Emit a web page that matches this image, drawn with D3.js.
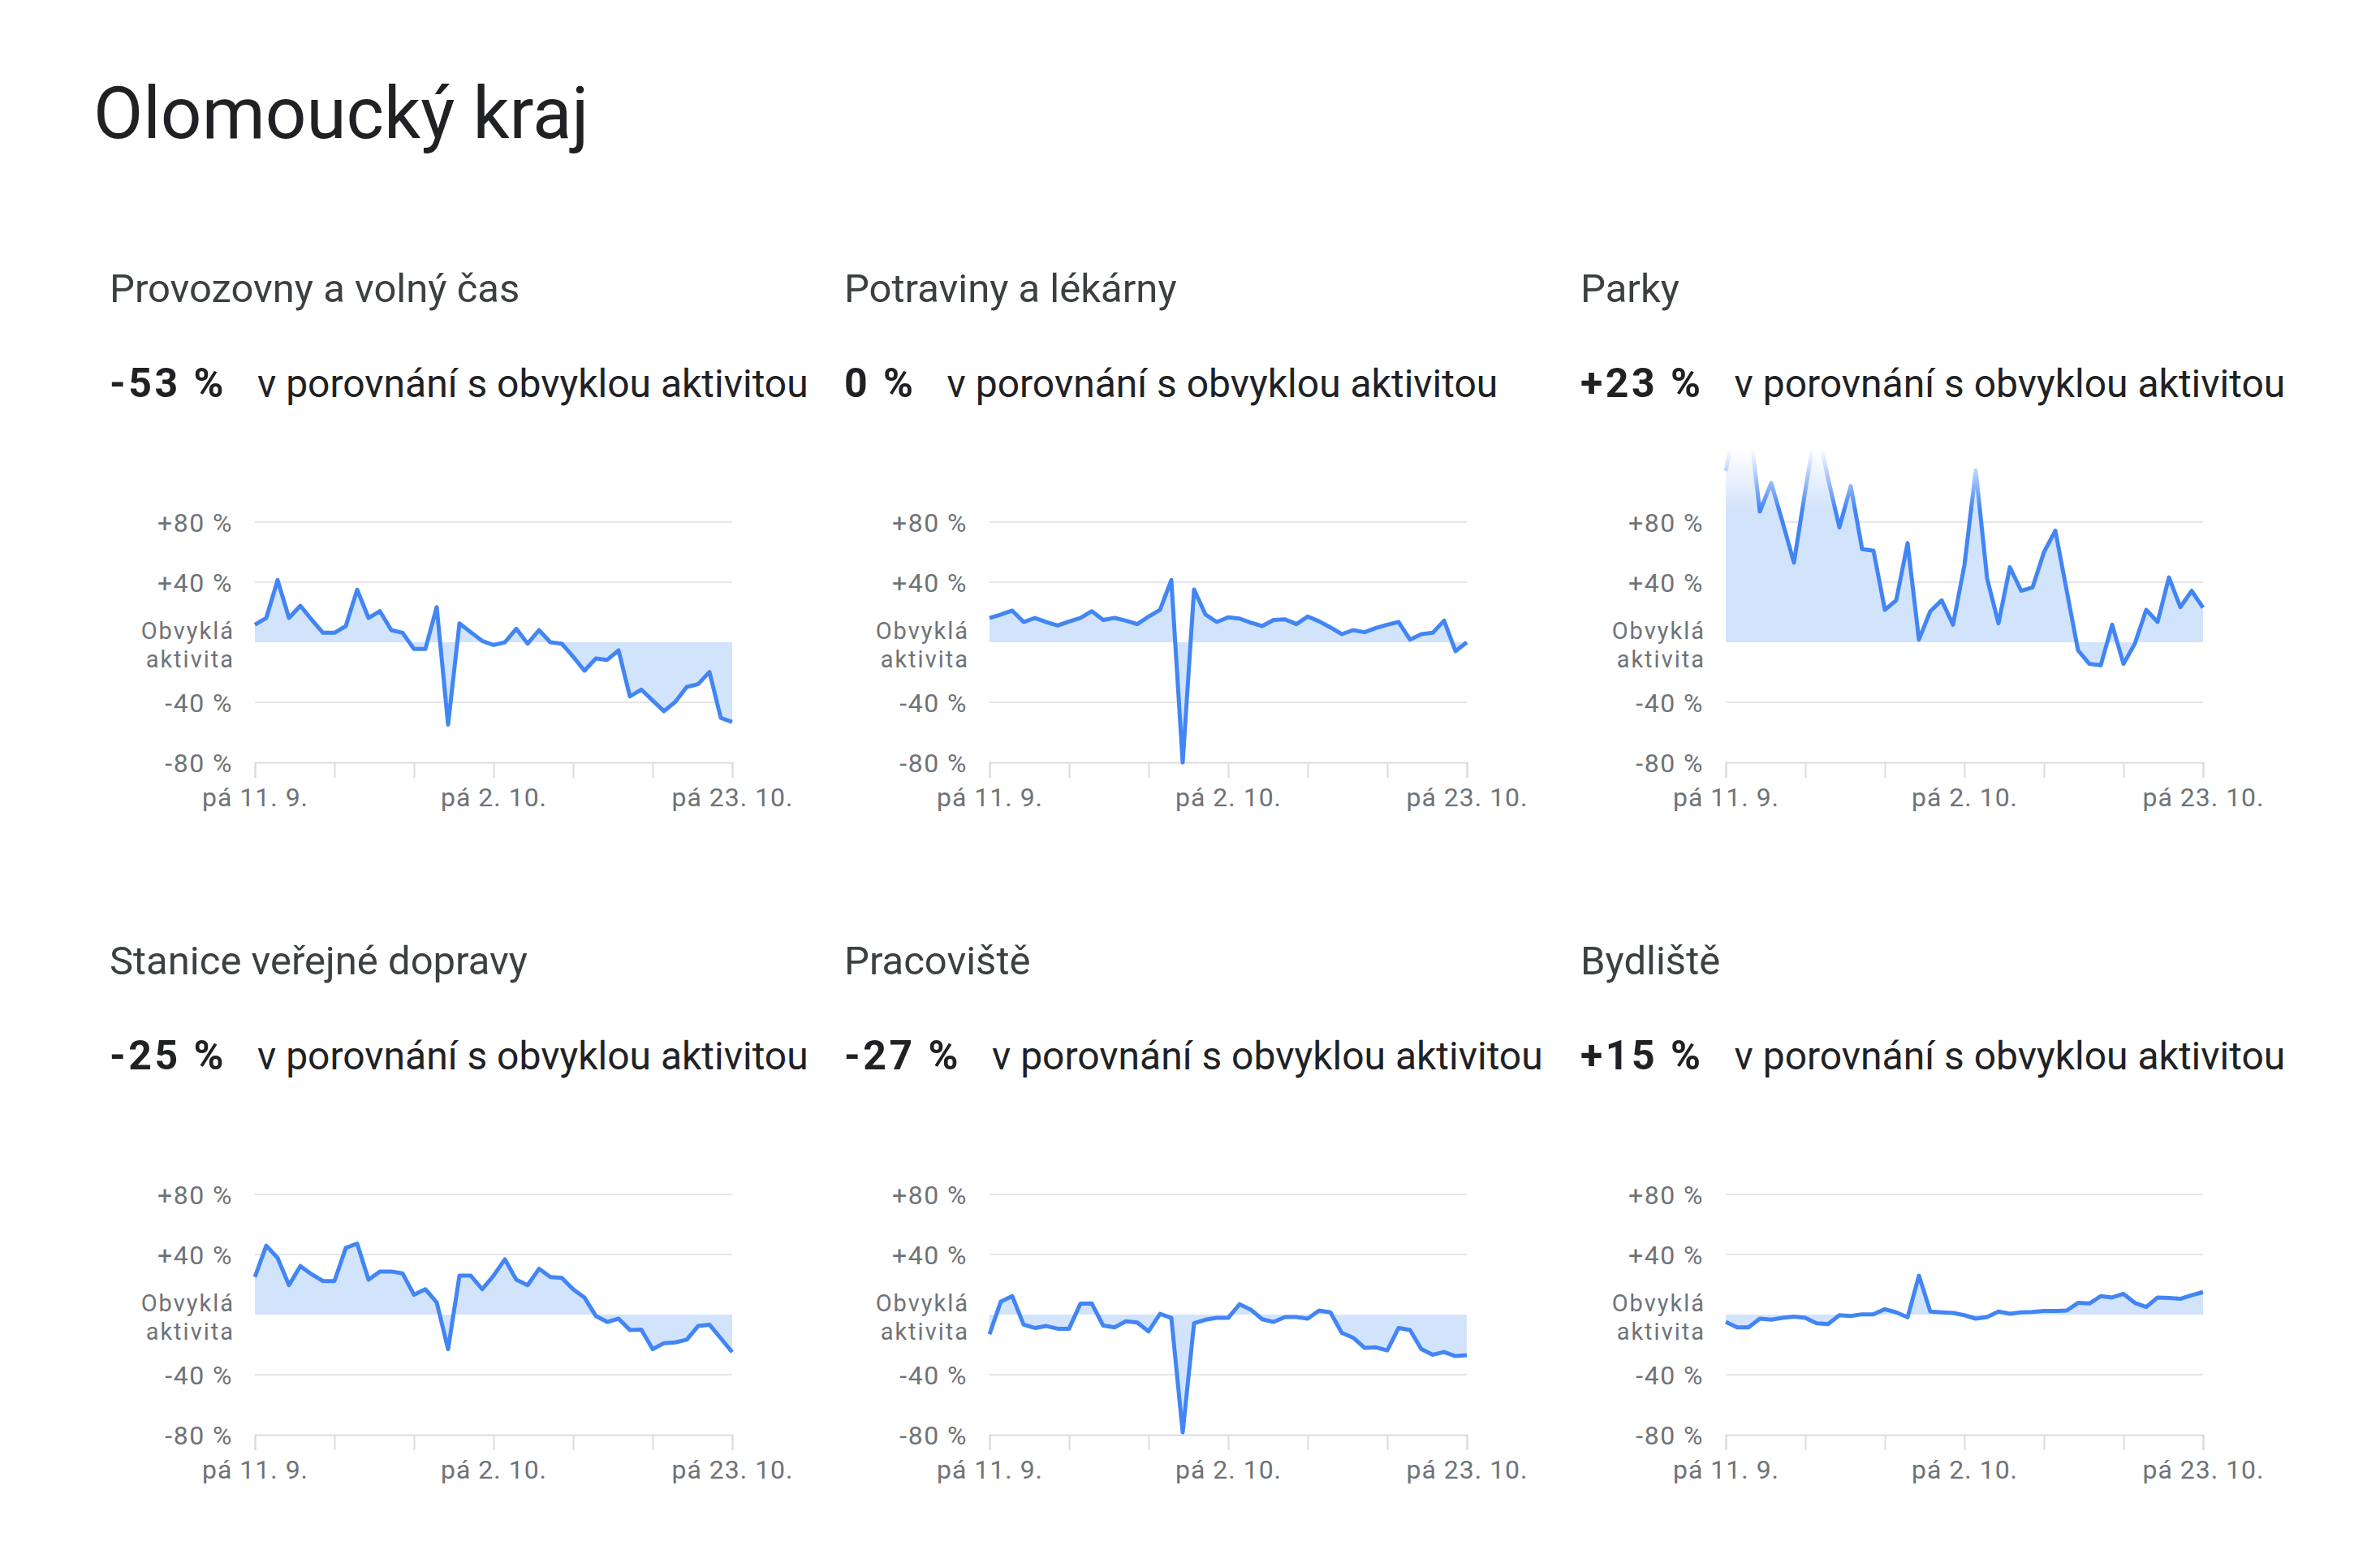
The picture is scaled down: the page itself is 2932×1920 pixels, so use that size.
<!DOCTYPE html>
<html>
<head>
<meta charset="utf-8">
<script src="https://cdn.jsdelivr.net/npm/d3@7"></script>
<style>
  html, body { margin: 0; padding: 0; background: #ffffff; }
  svg { display: block; }
  text { font-family: Roboto, "Noto Sans", sans-serif; }
</style>
</head>
<body>
<svg id="chart" width="2932" height="1920"></svg>
<script>
// ---------------- data ----------------
const regionTitle = "Olomoucký kraj";
const categories = ["Provozovny a volný čas", "Potraviny a lékárny", "Parky",
                    "Stanice veřejné dopravy", "Pracoviště", "Bydliště"];
const headlineValues = ["-53 %", "0 %", "+23 %", "-25 %", "-27 %", "+15 %"];
const comparisonText = "v porovnání s obvyklou aktivitou";
const startDate = "2020-09-11";
const endDate = "2020-10-23";
const yTickValues = [80, 40, 0, -40, -80];
const yTickLabels = ["+80 %", "+40 %", "Obvyklá\naktivita", "-40 %", "-80 %"];
const xTickLabels = ["pá 11. 9.", "", "", "pá 2. 10.", "", "", "pá 23. 10."];

const provozovny = [11.7, 16.2, 41.4, 16.2, 24.3, 15, 6.3, 6.3, 10.8, 35, 16.2, 20.7, 8.1, 6.3,
  -4.5, -4.5, 23.4, -54.8, 12.6, 6.7, 0.9, -1.8, 0, 9, -0.9, 8.1, 0, -0.9, -9.5, -18.9,
  -10.8, -11.7, -5.4, -36, -31.5, -38.7, -45.9, -39.6, -29.7, -27.9, -19.8, -50.4, -53];
const potraviny = [16.2, 18.5, 21.1, 13.5, 16.2, 13.5, 11.2, 13.9, 16.2, 20.7, 14.9, 16.2, 14.4, 12.1,
  17.1, 21.6, 41.4, -80, 35.1, 18.5, 13.5, 16.6, 15.8, 13, 10.8, 14.9, 15.3, 12.1, 17.1, 14,
  9.9, 5.4, 8.1, 6.7, 9.5, 11.7, 13.5, 1.8, 5.4, 6.3, 14.4, -5.9, 0];
const parky = [114, 150, 152, 87, 106, 80, 53, 101, 146, 109, 76.5, 104, 62, 61,
  21.6, 27.9, 66, 1.8, 20.7, 27.9, 11.7, 51.3, 114.5, 42.4, 12.6, 50, 34.2, 36.5, 60, 74.3,
  34.5, -5.4, -14.4, -15.3, 11.7, -14.4, -0.9, 21.6, 13.5, 43.2, 23.4, 34.2, 23];
const stanice = [25, 45.9, 37.7, 19.6, 32.3, 26.8, 22.3, 22.3, 44.4, 47.3, 23.2, 28.7, 28.7, 27.4,
  13.2, 16.9, 8.2, -23, 25.9, 25.9, 16.9, 25.9, 36.8, 23.2, 19.6, 30.5, 25, 24.5, 16.9, 11.4,
  -0.9, -4.9, -2.7, -10.3, -10, -23, -19, -18.5, -16.7, -7.6, -6.7, -15.8, -25];
const pracoviste = [-13.1, 8.7, 12.3, -6.7, -8.9, -7.6, -9.4, -9.4, 7.3, 7.4, -7.3, -8.5, -4.5, -5.3,
  -11.2, 0.5, -2.2, -78.4, -5.8, -3.4, -2.2, -2.2, 6.9, 3.3, -3.1, -4.9, -1.6, -1.6, -2.7, 2.7,
  1.5, -12.2, -15.4, -22.1, -21.8, -23.9, -8.9, -10.3, -23, -26.7, -24.9, -27.6, -27];
const bydliste = [-4.9, -8.5, -8.5, -2.7, -3.4, -2.2, -1.3, -2.2, -5.8, -6.3, -0.4, -0.9, 0.2, 0.2,
  3.6, 1.5, -1.8, 25.9, 2, 1.5, 1.1, -0.4, -2.7, -1.6, 2, 0.5, 1.5, 1.8, 2.4, 2.4,
  2.7, 7.8, 7.4, 12.3, 11.4, 13.8, 7.8, 5.1, 11.4, 11.1, 10.5, 12.9, 15];
const seriesList = [provozovny, potraviny, parky, stanice, pracoviste, bydliste];

// ---------------- layout ----------------
const svg = d3.select("#chart");
const colOffsets = [0, 905, 1812];
const rowOffsets = [0, 828];
const plotLeft = 314, plotRight = 902;
const yTop = 643, yBottom = 939;   // +80 and -80
const clipTop = 553;

const colors = {
  title: "#202124", sub: "#3c4043", axisText: "#6f7377",
  grid: "#e6e6e6", axis: "#dadce0", line: "#4285f4", fill: "#d2e3fc"
};

const parseDate = d3.timeParse("%Y-%m-%d");
const days = d3.timeDay.range(parseDate(startDate), d3.timeDay.offset(parseDate(endDate), 1));
const x = d3.scaleTime().domain([days[0], days[days.length - 1]]).range([plotLeft, plotRight]);
const y = d3.scaleLinear().domain([-80, 80]).range([yBottom, yTop]);
const xTicks = days.filter((d, k) => k % 7 === 0);

// defs: clip + fade mask (used where values exceed the top)
const defs = svg.append("defs");
defs.append("clipPath").attr("id", "plotClip")
  .append("rect").attr("x", plotLeft - 6).attr("y", clipTop)
  .attr("width", plotRight - plotLeft + 12).attr("height", yBottom + 30 - clipTop);
const grad = defs.append("linearGradient").attr("id", "fadeGrad")
  .attr("gradientUnits", "userSpaceOnUse")
  .attr("x1", 0).attr("x2", 0).attr("y1", clipTop).attr("y2", 628);
grad.append("stop").attr("offset", 0).attr("stop-color", "#fff").attr("stop-opacity", 0);
grad.append("stop").attr("offset", 1).attr("stop-color", "#fff").attr("stop-opacity", 1);
const mask = defs.append("mask").attr("id", "fadeMask").attr("maskUnits", "userSpaceOnUse")
  .attr("x", 0).attr("y", 0).attr("width", 1000).attr("height", 1000);
mask.append("rect").attr("x", 0).attr("y", 0).attr("width", 1000).attr("height", 1000)
  .attr("fill", "url(#fadeGrad)");

// title
svg.append("text").attr("x", 115).attr("y", 170)
  .attr("font-size", 89).attr("fill", colors.title).text(regionTitle);

categories.forEach((cat, i) => {
  const col = i % 3, row = Math.floor(i / 3);
  const g = svg.append("g").attr("transform", `translate(${colOffsets[col]},${rowOffsets[row]})`);
  const values = seriesList[i];
  const data = values.map((v, k) => ({ date: days[k], value: v }));

  // subtitle
  g.append("text").attr("x", 135).attr("y", 372).attr("font-size", 49)
    .attr("fill", colors.sub).text(cat);
  const val = g.append("text").attr("x", 135).attr("y", 489).attr("font-size", 50)
    .attr("font-weight", 700).attr("letter-spacing", 3.5).attr("fill", colors.title)
    .text(headlineValues[i]);
  const vw = val.node().getComputedTextLength();
  g.append("text").attr("x", 135 + vw + 38).attr("y", 489).attr("font-size", 48)
    .attr("fill", colors.title).text(comparisonText);

  // gridlines (except baseline and zero)
  g.append("g").selectAll("line").data([80, 40, -40]).join("line")
    .attr("x1", plotLeft).attr("x2", plotRight)
    .attr("y1", d => y(d)).attr("y2", d => y(d))
    .attr("stroke", colors.grid).attr("stroke-width", 2);

  // x axis at -80
  const xAxis = d3.axisBottom(x).tickValues(xTicks).tickSize(19).tickPadding(12)
    .tickFormat((d, k) => xTickLabels[k]);
  const ax = g.append("g").attr("transform", `translate(0,${y(-80)})`).call(xAxis);
  ax.select(".domain").attr("stroke", colors.axis).attr("stroke-width", 2);
  ax.selectAll(".tick line").attr("stroke", colors.axis).attr("stroke-width", 2);
  ax.selectAll(".tick text").attr("font-size", 32).attr("fill", colors.axisText)
    .attr("letter-spacing", 1).attr("font-family", "Roboto, sans-serif");

  // y labels
  const yl = g.append("g");
  yTickValues.forEach((tv, k) => {
    const parts = yTickLabels[k].split("\n");
    if (parts.length === 1) {
      yl.append("text").attr("text-anchor", "end").attr("font-size", 32)
        .attr("letter-spacing", 1.5).attr("fill", colors.axisText)
        .attr("x", 287).attr("y", y(tv) + 12).text(parts[0]);
    } else {
      parts.forEach((p, j) => {
        yl.append("text").attr("text-anchor", "end").attr("font-size", 29)
          .attr("letter-spacing", 2).attr("fill", colors.axisText)
          .attr("x", 289).attr("y", y(tv) - 4 + j * 35).text(p);
      });
    }
  });

  // area + line
  const plot = g.append("g").attr("clip-path", "url(#plotClip)").append("g")
    .attr("mask", "url(#fadeMask)");
  const area = d3.area().x(d => x(d.date)).y0(y(0)).y1(d => y(d.value));
  const line = d3.line().x(d => x(d.date)).y(d => y(d.value));
  plot.append("path").datum(data).attr("d", area).attr("fill", colors.fill);
  plot.append("path").datum(data).attr("d", line).attr("fill", "none")
    .attr("stroke", colors.line).attr("stroke-width", 5).attr("stroke-linejoin", "round");
});
</script>
</body>
</html>
